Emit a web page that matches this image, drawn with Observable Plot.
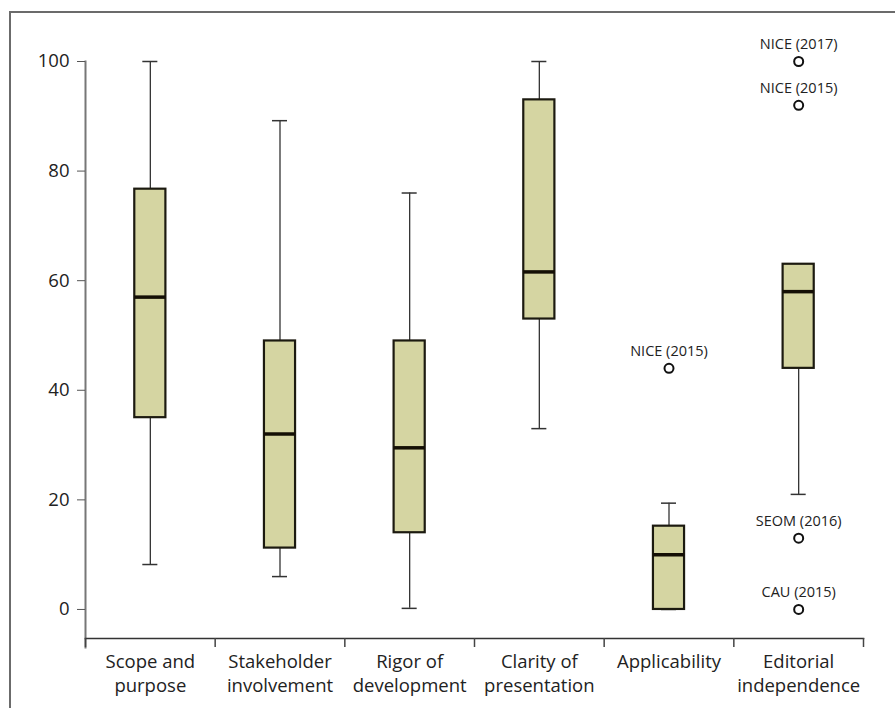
<!DOCTYPE html>
<html>
<head>
<meta charset="utf-8">
<script src="https://cdn.jsdelivr.net/npm/d3@7"></script>
<script src="https://cdn.jsdelivr.net/npm/@observablehq/plot@0.6"></script>
<style>
  html, body { margin: 0; padding: 0; background: #fff; }
  #wrap { position: relative; width: 895px; height: 708px; overflow: hidden; }
  #border { position: absolute; left: 9px; top: 11px; right: -10px; bottom: -10px;
            border-top: 2px solid #6b6b6b; border-left: 2px solid #6b6b6b; }
  #chart { position: absolute; left: 0; top: 0; }
</style>
</head>
<body>
<div id="wrap"><div id="border"></div><div id="chart"></div></div>
<script>
const categories = ["Scope and\npurpose", "Stakeholder\ninvolvement", "Rigor of\ndevelopment", "Clarity of\npresentation", "Applicability", "Editorial\nindependence"];
const lowWhisker  = [8.2, 6.0, 0.2, 33.0, 0.0, 21.0];
const q1          = [35.0, 11.2, 14.0, 53.0, 0.0, 44.0];
const median      = [57.0, 32.0, 29.5, 61.6, 10.0, 58.0];
const q3          = [76.7, 49.0, 49.0, 93.0, 15.2, 63.0];
const highWhisker = [100.0, 89.2, 76.0, 100.0, 19.4, 63.0];

const outlierCategory = [5, 6, 6, 6, 6];
const outlierValue    = [44, 100, 92, 13, 0];
const outlierLabel    = ["NICE (2015)", "NICE (2017)", "NICE (2015)", "SEOM (2016)", "CAU (2015)"];

const yTicks = [0, 20, 40, 60, 80, 100];

const boxes = categories.map((c, i) => ({
  i: i + 1, name: c, lo: lowWhisker[i], q1: q1[i], med: median[i], q3: q3[i], hi: highWhisker[i]
}));
const outliers = outlierValue.map((v, k) => ({i: outlierCategory[k], v, label: outlierLabel[k]}));

const halfBox = 0.12, halfCap = 0.058;
const font = "'Open Sans', 'Noto Sans', sans-serif";

const plot = Plot.plot({
  width: 895,
  height: 708,
  marginLeft: 85,
  marginRight: 32,
  marginTop: 61,
  marginBottom: 70,
  style: {fontFamily: font, fontSize: "18px", background: "transparent", color: "#222"},
  x: {domain: [0.5, 6.5], axis: null},
  y: {domain: [-5.3, 100], axis: null},
  marks: [
    // whiskers
    Plot.ruleX(boxes, {x: "i", y1: "lo", y2: "q1", stroke: "#333", strokeWidth: 1.3}),
    Plot.ruleX(boxes, {x: "i", y1: "q3", y2: "hi", stroke: "#333", strokeWidth: 1.3}),
    Plot.ruleY(boxes, {y: "lo", x1: d => d.i - halfCap, x2: d => d.i + halfCap, stroke: "#333", strokeWidth: 1.5}),
    Plot.ruleY(boxes, {y: "hi", x1: d => d.i - halfCap, x2: d => d.i + halfCap, stroke: "#333", strokeWidth: 1.5}),
    // boxes
    Plot.rect(boxes, {x1: d => d.i - halfBox, x2: d => d.i + halfBox, y1: "q1", y2: "q3",
      fill: "#d5d5a2", stroke: "#1c1a10", strokeWidth: 2.2}),
    Plot.ruleY(boxes, {y: "med", x1: d => d.i - halfBox, x2: d => d.i + halfBox, stroke: "#140f05", strokeWidth: 3.5}),
    // outliers
    Plot.dot(outliers, {x: "i", y: "v", r: 4.5, stroke: "#111", strokeWidth: 2, fill: "white"}),
    Plot.text(outliers, {x: "i", y: "v", text: "label", dy: -17, fontSize: 14.5, fill: "#222"}),
    // y axis
    Plot.frame({anchor: "left", stroke: "#777", strokeWidth: 2, insetBottom: -9}),
    Plot.axisY({ticks: yTicks, tickSize: 8, tickPadding: 8, fontSize: 18.5, label: null, stroke: "#555", fill: "#222"}),
    // x axis
    Plot.frame({anchor: "bottom", stroke: "#333", strokeWidth: 1.6}),
    Plot.axisX({ticks: [0.5, 1.5, 2.5, 3.5, 4.5, 5.5, 6.5], tickSize: 9, tickFormat: () => "", label: null, stroke: "#444", strokeWidth: 1.5}),
    Plot.axisX({ticks: [1, 2, 3, 4, 5, 6], tickSize: 0, tickPadding: 12, fontSize: 18.5, lineHeight: 1.3,
      tickFormat: d => categories[d - 1], label: null, fill: "#222"})
  ]
});
document.getElementById("chart").appendChild(plot);
</script>
</body>
</html>
